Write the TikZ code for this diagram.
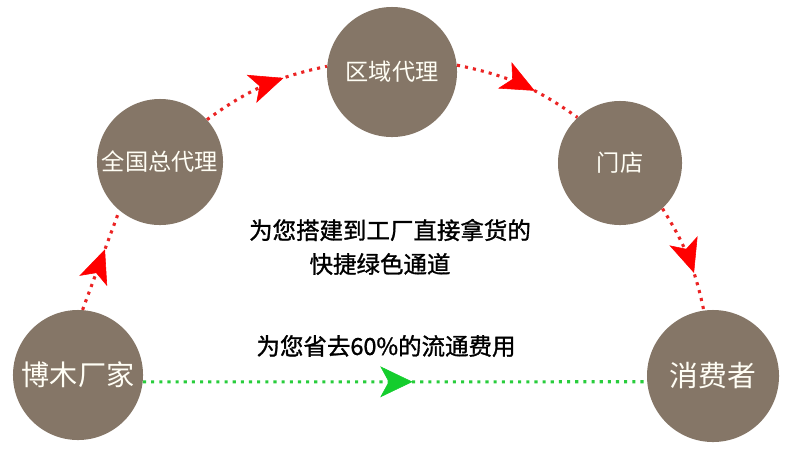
\documentclass[tikz,border=0pt]{standalone}
\usepackage{fontspec}
\setmainfont{Noto Sans CJK SC}
\newfontfamily\boldcjk[FakeBold=1.2]{Noto Sans CJK SC}
\usepackage{xcolor}
\usepackage{tikz}
\usetikzlibrary{arrows.meta, decorations.markings}
\definecolor{stagebrown}{RGB}{133,118,103}
\definecolor{dotred}{RGB}{235,35,35}
\definecolor{tipred}{RGB}{255,0,0}
\definecolor{dotgreen}{RGB}{40,205,60}
\definecolor{tipgreen}{RGB}{20,205,45}

\begin{document}
\begin{tikzpicture}[x=0.025cm, y=-0.025cm,
    stage/.style={circle, fill=stagebrown, text=white!96!yellow, inner sep=0pt, minimum size=#1},
    flow/.style n args={4}{draw=#1, line width=2.2pt, dash pattern=on 2.2pt off 3.6pt,
      postaction={decorate, decoration={markings, mark=at position #3 with
        {\arrow[#2, line width=0.4pt]{Stealth[#4]}}}}},
    caption/.style={font=\boldcjk\fontsize{16.7}{20}\selectfont}
  ]
        \useasboundingbox (0,0) rectangle (787,449);

        % Stages of the chain
        \node[stage=3.25cm, font=\fontsize{20}{24}\selectfont] (maker) at (78,375) {博木厂家};
        \node[stage=3.15cm, font=\fontsize{16.5}{20}\selectfont] (national) at (160,162) {全国总代理};
        \node[stage=3.25cm, font=\fontsize{16.5}{20}\selectfont] (regional) at (392,72) {区域代理};
        \node[stage=3.1cm, font=\fontsize{16.5}{20}\selectfont] (shop) at (620,163) {门店};
        \node[stage=3.3cm, font=\fontsize{20.5}{24}\selectfont] (consumer) at (713,376) {消费者};

        % Traditional route (red)
        \draw[flow={dotred}{tipred}{0.61}{length=24pt, width=21pt, inset=6pt}] (maker.86) -- (national.230);
        \draw[flow={dotred}{tipred}{0.66}{length=24pt, width=21pt, inset=6pt}] (national.42) to[bend left=12] (regional.175);
        \draw[flow={dotred}{tipred}{0.62}{length=24pt, width=21pt, inset=6pt}] (regional.6) to[bend left=12] (shop.133);
        \draw[flow={dotred}{tipred}{0.65}{length=24pt, width=21pt, inset=6pt}] (shop.-47) to[bend left=10] (consumer.98);

        % Direct route (green)
        \draw[flow={dotgreen}{tipgreen}{0.535}{length=23pt, width=22pt, inset=6pt}] (maker.-6) -- (consumer.185);

        % Captions
        \node[caption] (slogan) at (390,230) {为您搭建到工厂直接拿货的};
        \node[caption] (channel) at (380,264) {快捷绿色通道};
        \node[caption] (saving) at (386,346) {为您省去60\%的流通费用};
    \end{tikzpicture}
\end{document}
